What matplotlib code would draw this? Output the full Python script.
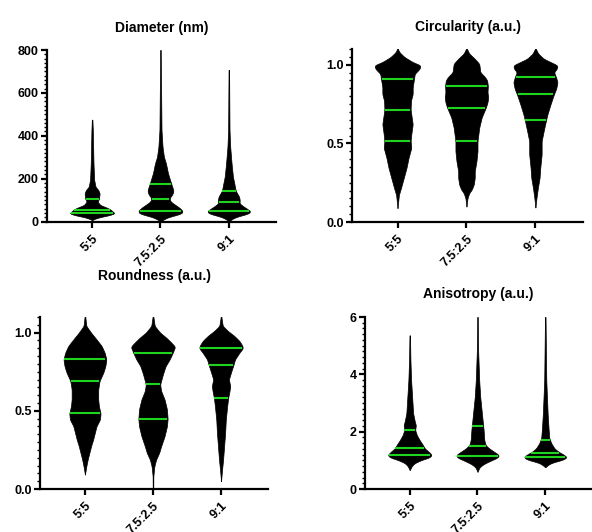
import numpy as np
import matplotlib
matplotlib.use('Agg')
import matplotlib.pyplot as plt
from matplotlib.ticker import MultipleLocator, FormatStrFormatter

plt.rcParams['font.family'] = ['Liberation Sans', 'DejaVu Sans']
plt.rcParams['font.weight'] = 'bold'

groups = ['5:5', '7.5:2.5', '9:1']

# violin outlines: y value and half width (in category units)
diam_y = [
    [5, 10, 19.4, 28.8, 38, 50.5, 61.4, 77, 92.5, 106, 131, 147, 162, 194, 271, 427, 475],
    [1, 3.9, 14.8, 25.7, 35, 45.9, 61.4, 77, 92.5, 108, 125, 141, 155, 173.5, 194, 225, 271, 302, 349, 427, 800],
    [1, 3.9, 14.8, 25.7, 35, 46, 57, 69, 85, 100, 116, 144, 178, 209, 240, 271, 349, 427, 707],
]
diam_w = [
    [0, 0.015, 0.10, 0.24, 0.33, 0.29, 0.24, 0.12, 0.08, 0.10, 0.11, 0.09, 0.05, 0.03, 0.02, 0.01, 0.004],
    [0, 0.02, 0.07, 0.17, 0.29, 0.33, 0.29, 0.22, 0.15, 0.13, 0.17, 0.19, 0.18, 0.16, 0.14, 0.11, 0.08, 0.05, 0.03, 0.015, 0.004],
    [0, 0.015, 0.06, 0.15, 0.27, 0.32, 0.28, 0.22, 0.155, 0.16, 0.15, 0.10, 0.08, 0.06, 0.05, 0.04, 0.02, 0.01, 0.004],
]
diam_q = [[41, 54, 105], [47, 106, 173], [48, 89, 144]]

circ_y = [
    [0.088, 0.130, 0.173, 0.216, 0.280, 0.344, 0.408, 0.472, 0.515, 0.558, 0.622, 0.714, 0.771, 0.814,
     0.857, 0.912, 0.942, 0.974, 0.996, 1.017, 1.049, 1.081, 1.103],
    [0.098, 0.152, 0.184, 0.205, 0.237, 0.280, 0.323, 0.387, 0.451, 0.515, 0.600, 0.664, 0.727, 0.761,
     0.793, 0.825, 0.865, 0.900, 0.921, 0.953, 0.974, 1.006, 1.038, 1.071, 1.103],
    [0.092, 0.152, 0.216, 0.280, 0.344, 0.429, 0.515, 0.579, 0.650, 0.686, 0.750, 0.814, 0.846, 0.889,
     0.919, 0.953, 0.974, 0.996, 1.017, 1.038, 1.071, 1.103],
]
circ_w = [
    [0, 0.01, 0.02, 0.05, 0.09, 0.13, 0.16, 0.20, 0.19, 0.20, 0.22, 0.19, 0.195, 0.22,
     0.22, 0.24, 0.25, 0.32, 0.335, 0.22, 0.10, 0.025, 0.004],
    [0, 0.015, 0.04, 0.075, 0.105, 0.12, 0.12, 0.145, 0.16, 0.16, 0.185, 0.22, 0.28, 0.305,
     0.315, 0.305, 0.31, 0.30, 0.27, 0.20, 0.195, 0.185, 0.12, 0.04, 0.004],
    [0, 0.015, 0.035, 0.06, 0.07, 0.09, 0.09, 0.12, 0.155, 0.175, 0.22, 0.27, 0.30, 0.32,
     0.30, 0.27, 0.31, 0.32, 0.22, 0.12, 0.04, 0.004],
]
circ_q = [[0.515, 0.714, 0.912], [0.515, 0.727, 0.865], [0.650, 0.814, 0.919]]

round_y = [
    [0.092, 0.145, 0.188, 0.231, 0.274, 0.316, 0.359, 0.402, 0.444, 0.483, 0.530, 0.573, 0.637, 0.692,
     0.744, 0.786, 0.829, 0.872, 0.915, 0.957, 1.000, 1.043, 1.107],
    [0.0, 0.081, 0.145, 0.188, 0.231, 0.274, 0.338, 0.402, 0.449, 0.509, 0.573, 0.626, 0.669, 0.733,
     0.786, 0.829, 0.872, 0.910, 0.936, 0.968, 1.000, 1.043, 1.107],
    [0.049, 0.124, 0.188, 0.274, 0.359, 0.444, 0.530, 0.585, 0.615, 0.658, 0.701, 0.744, 0.791, 0.829,
     0.872, 0.900, 0.915, 0.947, 0.979, 1.011, 1.043, 1.103],
]
round_w = [
    [0, 0.02, 0.04, 0.065, 0.09, 0.12, 0.145, 0.17, 0.22, 0.23, 0.205, 0.195, 0.195, 0.215,
     0.27, 0.30, 0.315, 0.29, 0.245, 0.17, 0.09, 0.02, 0.004],
    [0.004, 0.005, 0.02, 0.045, 0.09, 0.12, 0.17, 0.205, 0.215, 0.205, 0.17, 0.12, 0.105, 0.145,
     0.185, 0.245, 0.29, 0.325, 0.27, 0.195, 0.105, 0.025, 0.004],
    [0, 0.015, 0.03, 0.045, 0.06, 0.07, 0.09, 0.105, 0.12, 0.135, 0.115, 0.145, 0.18, 0.205,
     0.27, 0.32, 0.315, 0.27, 0.195, 0.10, 0.025, 0.004],
]
round_q = [[0.483, 0.692, 0.829], [0.449, 0.669, 0.872], [0.585, 0.791, 0.900]]

aniso_y = [
    [0.66, 0.80, 0.90, 1.01, 1.10, 1.19, 1.30, 1.42, 1.53, 1.71, 1.88, 2.06, 2.23, 2.35, 2.64, 3.22, 3.80, 4.5, 5.36],
    [0.60, 0.76, 0.87, 0.99, 1.10, 1.19, 1.30, 1.42, 1.53, 1.71, 2.06, 2.29, 2.64, 3.22, 3.80, 4.8, 6.0],
    [0.76, 0.84, 0.92, 1.01, 1.10, 1.19, 1.30, 1.42, 1.59, 1.77, 2.06, 2.64, 3.22, 3.80, 6.0],
]
aniso_w = [
    [0, 0.03, 0.07, 0.17, 0.29, 0.325, 0.28, 0.22, 0.195, 0.145, 0.105, 0.08, 0.09, 0.075, 0.05, 0.035, 0.02, 0.01, 0.004],
    [0, 0.03, 0.09, 0.195, 0.30, 0.315, 0.245, 0.17, 0.12, 0.10, 0.09, 0.08, 0.065, 0.04, 0.025, 0.01, 0.004],
    [0, 0.04, 0.10, 0.245, 0.32, 0.28, 0.195, 0.135, 0.09, 0.06, 0.05, 0.035, 0.025, 0.015, 0.004],
]
aniso_q = [[1.19, 1.42, 2.06], [1.16, 1.50, 2.21], [1.13, 1.27, 1.71]]

panels = [
    dict(title='Diameter (nm)', ys=diam_y, ws=diam_w, qs=diam_q, ylim=800, major=200, minor=20,
         fmt='%d', rect=[0.0794, 0.5836, 0.3868, 0.3224], pad=13),
    dict(title='Circularity (a.u.)', ys=circ_y, ws=circ_w, qs=circ_q, ylim=1.1, major=0.5, minor=0.05,
         fmt='%.1f', rect=[0.5946, 0.5827, 0.3902, 0.3252], pad=13),
    dict(title='Roundness (a.u.)', ys=round_y, ws=round_w, qs=round_q, ylim=1.1, major=0.5, minor=0.05,
         fmt='%.1f', rect=[0.0676, 0.0808, 0.3851, 0.3233], pad=27),
    dict(title='Anisotropy (a.u.)', ys=aniso_y, ws=aniso_w, qs=aniso_q, ylim=6, major=2, minor=0.2,
         fmt='%d', rect=[0.6166, 0.0808, 0.3834, 0.3233], pad=14),
]

green = '#1ed41e'


def smooth(v, k=5):
    pad = np.pad(v, k, mode='edge')
    kern = np.ones(2 * k + 1) / (2 * k + 1)
    return np.convolve(pad, kern, mode='same')[k:-k]


fig = plt.figure(figsize=(5.92, 5.32), dpi=100)

for p in panels:
    ax = fig.add_axes(p['rect'])
    for i in range(3):
        y = np.array(p['ys'][i], dtype=float)
        w = np.array(p['ws'][i], dtype=float)
        yy = np.linspace(y[0], y[-1], 500)
        ww = smooth(np.interp(yy, y, w), 4)
        ww[0] = 0
        ax.fill_betweenx(yy, i - ww, i + ww, color='black', lw=0.5, zorder=2)
        for q in p['qs'][i]:
            hw = np.interp(q, yy, ww) * 0.96
            ax.plot([i - hw, i + hw], [q, q], color=green, lw=1.5, solid_capstyle='butt', zorder=3)

    ax.set_xlim(-0.66, 2.69)
    ax.set_ylim(0, p['ylim'])
    ax.set_xticks(range(3))
    ax.set_xticklabels(groups, rotation=45, ha='right', rotation_mode='anchor', fontsize=9,
                       fontweight='bold')
    ax.yaxis.set_major_locator(MultipleLocator(p['major']))
    ax.yaxis.set_minor_locator(MultipleLocator(p['minor']))
    ax.yaxis.set_major_formatter(FormatStrFormatter(p['fmt']))
    for lab in ax.get_yticklabels():
        lab.set_fontsize(9)
        lab.set_fontweight('bold')
    ax.spines['top'].set_visible(False)
    ax.spines['right'].set_visible(False)
    ax.spines['left'].set_linewidth(1.6)
    ax.spines['bottom'].set_linewidth(1.6)
    ax.tick_params(axis='both', which='major', length=4, width=1.6, pad=2, color='black')
    ax.tick_params(axis='x', which='major', pad=4)
    ax.tick_params(axis='y', which='minor', length=2.2, width=1.0)
    ax.set_title(p['title'], fontsize=10, fontweight='bold', pad=p['pad'])

fig.savefig('out.png', dpi=100)
